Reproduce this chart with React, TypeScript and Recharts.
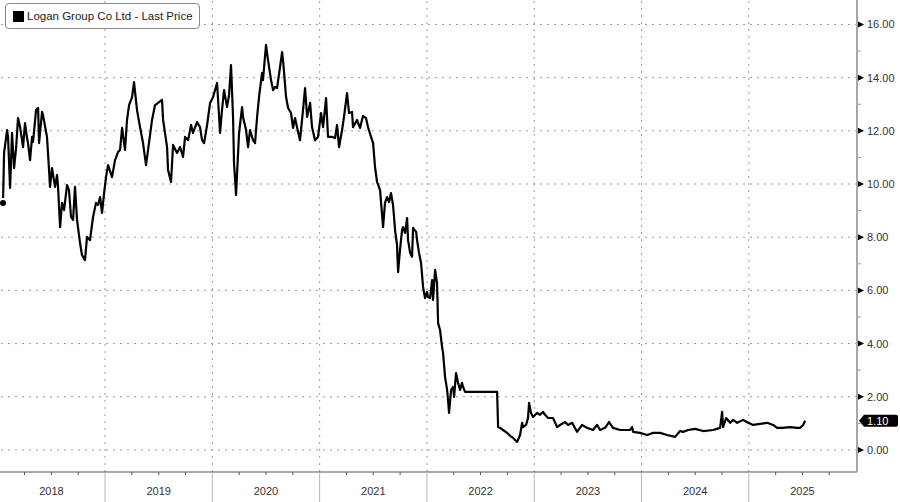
import React from 'react';
import { LineChart, Line, XAxis, YAxis, ReferenceLine } from 'recharts';

const years = ['2018', '2019', '2020', '2021', '2022', '2023', '2024', '2025'];

const dates = [
  2018.049, 2018.059, 2018.087, 2018.096, 2018.115, 2018.133, 2018.152, 2018.171, 2018.189, 2018.208,
  2018.236, 2018.254, 2018.273, 2018.282, 2018.301, 2018.320, 2018.329, 2018.357, 2018.376, 2018.385,
  2018.413, 2018.422, 2018.459, 2018.478, 2018.487, 2018.506, 2018.534, 2018.553, 2018.562, 2018.581,
  2018.599, 2018.618, 2018.646, 2018.664, 2018.683, 2018.702, 2018.720, 2018.739, 2018.767, 2018.785,
  2018.813, 2018.832, 2018.860, 2018.888, 2018.916, 2018.935, 2018.954, 2018.972, 2018.991,
  2019.009, 2019.028, 2019.065, 2019.093, 2019.121, 2019.140, 2019.159, 2019.186, 2019.205, 2019.224,
  2019.252, 2019.270, 2019.298, 2019.326, 2019.354, 2019.382, 2019.401, 2019.438, 2019.466, 2019.494,
  2019.531, 2019.541, 2019.578, 2019.587, 2019.615, 2019.634, 2019.671, 2019.699, 2019.727, 2019.746,
  2019.774, 2019.802, 2019.820, 2019.857, 2019.885, 2019.904, 2019.923, 2019.951, 2019.979,
  2020.007, 2020.044, 2020.072, 2020.090, 2020.109, 2020.137, 2020.156, 2020.174, 2020.193, 2020.202,
  2020.221, 2020.230, 2020.249, 2020.277, 2020.286, 2020.314, 2020.333, 2020.351, 2020.379, 2020.398,
  2020.417, 2020.435, 2020.463, 2020.472, 2020.500, 2020.519, 2020.547, 2020.566, 2020.584, 2020.603,
  2020.631, 2020.650, 2020.659, 2020.687, 2020.706, 2020.733, 2020.752, 2020.771, 2020.789, 2020.817,
  2020.845, 2020.864, 2020.883, 2020.911, 2020.929, 2020.957, 2020.985,
  2021.013, 2021.032, 2021.060, 2021.078, 2021.116, 2021.144, 2021.162, 2021.181, 2021.209, 2021.227,
  2021.255, 2021.274, 2021.302, 2021.311, 2021.348, 2021.376, 2021.404, 2021.432, 2021.451, 2021.479,
  2021.498, 2021.516, 2021.535, 2021.563, 2021.591, 2021.609, 2021.628, 2021.647, 2021.665, 2021.684,
  2021.703, 2021.721, 2021.731, 2021.749, 2021.768, 2021.777, 2021.796, 2021.815, 2021.824, 2021.843,
  2021.861, 2021.871, 2021.899, 2021.908, 2021.926, 2021.945, 2021.964, 2021.982,
  2022.001, 2022.010, 2022.029, 2022.048, 2022.057, 2022.076, 2022.094, 2022.104, 2022.122, 2022.141,
  2022.150, 2022.169, 2022.188, 2022.197, 2022.206, 2022.225, 2022.244, 2022.253, 2022.271, 2022.290,
  2022.309, 2022.327, 2022.337, 2022.355, 2022.654, 2022.663, 2022.681, 2022.709, 2022.747, 2022.775,
  2022.803, 2022.840, 2022.868, 2022.887, 2022.896, 2022.924, 2022.942, 2022.952, 2022.970, 2022.989,
  2023.026, 2023.054, 2023.082, 2023.101, 2023.129, 2023.175, 2023.213, 2023.241, 2023.287, 2023.315,
  2023.353, 2023.399, 2023.446, 2023.492, 2023.548, 2023.585, 2023.613, 2023.660, 2023.697, 2023.734,
  2023.800, 2023.893, 2023.912, 2023.921, 2023.986,
  2024.052, 2024.108, 2024.173, 2024.238, 2024.313, 2024.359, 2024.387, 2024.434, 2024.499, 2024.574,
  2024.667, 2024.732, 2024.751, 2024.760, 2024.788, 2024.826, 2024.854, 2024.891, 2024.947, 2024.994,
  2025.040, 2025.105, 2025.171, 2025.227, 2025.264, 2025.310, 2025.385, 2025.450, 2025.478, 2025.506,
  2025.525,
];

const prices = [
  9.29, 11.17, 12.03, 11.77, 9.85, 11.92, 10.60, 11.35, 12.48, 12.14,
  11.39, 12.29, 11.73, 11.54, 10.90, 11.77, 11.58, 12.78, 12.86, 11.54,
  12.71, 12.59, 11.77, 10.53, 9.89, 10.60, 9.89, 10.34, 9.89, 8.38,
  9.29, 9.02, 9.96, 9.77, 8.76, 8.65, 9.89, 8.65, 7.78, 7.33,
  7.14, 8.01, 7.89, 8.76, 9.29, 9.21, 9.51, 8.91, 9.66,
  10.26, 10.71, 10.26, 10.90, 11.20, 11.28, 12.11, 11.28, 12.41, 12.97,
  13.27, 13.83, 12.78, 12.14, 11.54, 10.71, 11.28, 12.41, 12.97, 13.05,
  13.16, 12.41, 11.39, 10.53, 10.08, 11.47, 11.17, 11.39, 11.02, 11.77,
  11.65, 12.22, 11.92, 12.33, 12.14, 11.65, 11.54, 12.22, 13.05,
  13.27, 13.80, 11.92, 12.78, 13.53, 12.89, 13.35, 14.47, 12.52, 10.79,
  9.59, 10.34, 11.92, 12.89, 12.52, 12.03, 11.39, 12.03, 11.65, 11.54,
  12.52, 13.27, 14.17, 13.91, 15.23, 14.66, 13.91, 13.53, 13.65, 13.61,
  14.40, 14.96, 14.66, 13.27, 12.86, 12.67, 12.11, 12.48, 12.14, 11.65,
  12.78, 13.61, 12.52, 13.05, 12.14, 11.65, 11.77,
  12.67, 12.14, 13.23, 11.77, 11.77, 11.73, 12.22, 11.39, 12.03, 12.52,
  13.42, 12.67, 12.71, 12.14, 12.41, 12.11, 12.56, 12.48, 12.14, 11.77,
  11.54, 10.64, 10.08, 9.77, 8.38, 9.29, 9.51, 9.32, 9.66, 9.21,
  8.27, 7.71, 6.69, 7.52, 8.27, 8.38, 8.16, 8.72, 7.89, 7.41,
  7.26, 8.35, 8.20, 7.89, 7.41, 7.03, 6.13, 5.71,
  5.94, 5.75, 5.71, 6.39, 5.64, 6.77, 6.28, 4.77, 4.51, 3.87,
  3.65, 2.74, 2.26, 1.88, 1.39, 2.26, 2.37, 1.99, 2.89, 2.52,
  2.26, 2.52, 2.37, 2.18, 2.18, 0.86, 0.83, 0.75, 0.64, 0.53,
  0.45, 0.30, 0.56, 1.02, 0.86, 0.94, 1.20, 1.77, 1.39, 1.24,
  1.39, 1.32, 1.43, 1.32, 1.20, 1.20, 0.86, 0.94, 1.05, 0.94,
  1.02, 0.68, 0.94, 0.83, 0.75, 0.94, 0.75, 0.83, 1.05, 0.83,
  0.75, 0.75, 0.86, 0.68, 0.64,
  0.56, 0.64, 0.64, 0.56, 0.49, 0.71, 0.68, 0.75, 0.79, 0.71,
  0.75, 0.83, 1.43, 0.86, 1.20, 1.02, 1.13, 1.02, 1.13, 1.02,
  0.94, 0.98, 1.02, 0.94, 0.83, 0.83, 0.86, 0.83, 0.83, 0.94,
  1.10,
];

const priceTicks = [0, 2, 4, 6, 8, 10, 12, 14, 16];
const minorPriceTicks = [1, 3, 5, 7, 9, 11, 13, 15];
const lastPrice = 1.1;
const seriesName = 'Logan Group Co Ltd - Last Price';

const data = dates.map((t, i) => ({ t, price: prices[i] }));

const firstYear = Number(years[0]);
const yearStarts = years.slice(1).map(Number);
const xTicks: number[] = [];
years.forEach((y) => {
  const n = Number(y);
  xTicks.push(n + 0.25, n + 0.5, n + 0.75);
  if (n + 1 <= Number(years[years.length - 1])) xTicks.push(n + 1);
});

const FONT = '"Liberation Sans", Arial, sans-serif';

const XTick = (props: any) => {
  const { x, y, payload } = props;
  const v = payload.value;
  const frac = v - Math.floor(v);
  if (frac === 0) {
    return <line x1={x} x2={x} y1={y} y2={y + 30} stroke="#b4b4b4" />;
  }
  if (frac === 0.5) {
    return (
      <g>
        <line x1={x} x2={x} y1={y} y2={y + 3} stroke="#555" />
        <text x={x} y={y + 23} textAnchor="middle" fontSize={11} fill="#333" fontFamily={FONT}>
          {years[Math.floor(v) - firstYear]}
        </text>
      </g>
    );
  }
  return <line x1={x} x2={x} y1={y} y2={y + 3} stroke="#555" />;
};

const YTick = (props: any) => {
  const { x, y, payload } = props;
  const v = payload.value;
  if (priceTicks.includes(v)) {
    return (
      <g>
        <polygon points={`${x + 1},${y - 3} ${x + 7},${y} ${x + 1},${y + 3}`} fill="#000" />
        <text x={x + 10} y={y} dy={4} fontSize={11} fill="#333" fontFamily={FONT}>
          {v.toFixed(2)}
        </text>
      </g>
    );
  }
  return <line x1={x + 1} x2={x + 4} y1={y} y2={y} stroke="#999" />;
};

const PriceTag = (props: any) => {
  const { viewBox } = props;
  if (!viewBox) return null;
  const ax = viewBox.x + viewBox.width + 2;
  const y = viewBox.y;
  return (
    <g>
      <path
        d={`M${ax},${y} L${ax + 5},${y - 6} L${ax + 37},${y - 6} Q${ax + 39},${y - 6} ${ax + 39},${y - 4} L${ax + 39},${y + 4} Q${ax + 39},${y + 6} ${ax + 37},${y + 6} L${ax + 5},${y + 6} Z`}
        fill="#000"
      />
      <text x={ax + 8} y={y} dy={4} fontSize={11} fill="#fff" fontFamily={FONT}>
        {lastPrice.toFixed(2)}
      </text>
    </g>
  );
};

const App = () => {
  return (
    <div style={{ position: 'absolute', left: 0, top: 0, width: 900, height: 502, background: '#fff' }}>
      <LineChart width={900} height={502} data={data} margin={{ top: 0, right: 0, bottom: 0, left: 0 }}>
        <XAxis
          dataKey="t"
          type="number"
          domain={[2018.021, 2026.008]}
          allowDataOverflow
          ticks={xTicks}
          interval={0}
          height={30}
          tickLine={false}
          tickSize={0}
          tickMargin={0}
          tick={<XTick />}
          axisLine={{ stroke: '#555' }}
        />
        <YAxis
          orientation="right"
          type="number"
          domain={[-0.83, 16.92]}
          allowDataOverflow
          ticks={[...priceTicks, ...minorPriceTicks].sort((a, b) => a - b)}
          interval={0}
          width={43}
          tickLine={false}
          tickSize={0}
          tickMargin={0}
          tick={<YTick />}
          axisLine={{ stroke: '#a8a8a8', strokeWidth: 2 }}
        />
        {priceTicks.map((p) => (
          <ReferenceLine key={'h' + p} y={p} stroke="#9a9a9a" strokeDasharray="2 5" />
        ))}
        {yearStarts.map((yr) => (
          <ReferenceLine key={'v' + yr} x={yr} stroke="#9a9a9a" strokeDasharray="2 5" />
        ))}
        <ReferenceLine y={lastPrice} stroke="none" label={<PriceTag />} />
        <Line
          type="linear"
          dataKey="price"
          stroke="#000"
          strokeWidth={2.2}
          strokeLinejoin="round"
          dot={false}
          isAnimationActive={false}
        />
      </LineChart>
      <div
        style={{
          position: 'absolute',
          left: 5,
          top: 3,
          width: 195,
          height: 26,
          boxSizing: 'border-box',
          border: '1px solid #8a8a8a',
          borderRadius: 4,
          background: '#fff',
          display: 'flex',
          alignItems: 'center',
          paddingLeft: 7,
          fontFamily: FONT,
          fontSize: 11.5,
          color: '#222',
          whiteSpace: 'nowrap',
          overflow: 'hidden',
        }}
      >
        <span style={{ display: 'inline-block', width: 11, height: 11, background: '#000', marginRight: 3, flex: 'none' }} />
        <span>{seriesName}</span>
      </div>
    </div>
  );
};

export default App;
